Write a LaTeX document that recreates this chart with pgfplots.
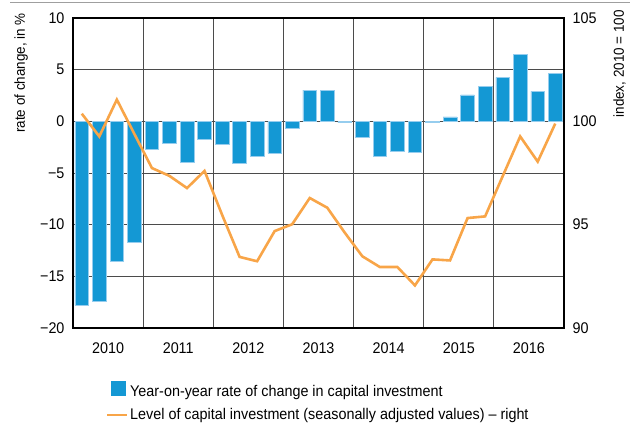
\documentclass[border=0pt]{standalone}
\usepackage{fontspec}
\setmainfont{Liberation Sans}[FakeStretch=0.93]
\usepackage{pgfplots}
\pgfplotsset{compat=1.18}
\definecolor{barblue}{RGB}{20,152,212}
\definecolor{baredge}{RGB}{150,205,238}
\definecolor{lineorange}{RGB}{248,165,72}
\definecolor{gridgray}{RGB}{75,75,75}

\pgfplotsset{
  base/.style={
    at={(73bp,97bp)}, anchor=south west, scale only axis,
    width=491bp, height=310bp,
    xmin=-0.5, xmax=27.5,
    tick label style={font=\fontsize{15.5}{17}\selectfont},
    /pgf/number format/assume math mode=true,
    major tick length=0pt, minor tick length=0pt,
    axis line style={black, line width=1.1bp},
  }
}

\begin{document}
\begin{tikzpicture}[x=1bp,y=1bp]
\useasboundingbox (0,0) rectangle (634,425);
\draw[gray!75, line width=1bp] (10,422) -- (630,422);

% left axis: year-on-year rate, bars
\begin{axis}[base,
  ymin=-20, ymax=10,
  ytick={-20,-15,-10,-5,0,5,10},
  yticklabels={−20,−15,−10,−5,0,5,10},
  yticklabel style={xshift=-5bp},
  ytick pos=left,
  xtick={1.5,5.5,9.5,13.5,17.5,21.5,25.5},
  xticklabels={2010,2011,2012,2013,2014,2015,2016},
  xticklabel style={yshift=-11bp},
  minor xtick={3.5,7.5,11.5,15.5,19.5,23.5},
  ymajorgrids, xminorgrids,
  grid style={gridgray, line width=0.9bp},
  minor grid style={gridgray, line width=0.9bp},
]
\addplot[ybar, bar width=0.78, fill=barblue, draw=baredge, line width=0.6bp] coordinates {
  (0,-17.8) (1,-17.4) (2,-13.5) (3,-11.75)
  (4,-2.74) (5,-2.13) (6,-3.94) (7,-1.74)
  (8,-2.23) (9,-4.06) (10,-3.42) (11,-3.1)
  (12,-0.65) (13,3.03) (14,2.97) (15,-0.13)
  (16,-1.58) (17,-3.39) (18,-2.87) (19,-3.03)
  (20,-0.13) (21,0.42) (22,2.55) (23,3.39)
  (24,4.26) (25,6.45) (26,2.9) (27,4.61)
};
\end{axis}

% right axis: level of capital investment, index 2010 = 100
\begin{axis}[base,
  ymin=90, ymax=105,
  ytick={90,95,100,105},
  yticklabel style={xshift=5bp},
  axis y line*=right, axis x line=none,
  legend style={at={(0.062,-0.165)}, anchor=north west, draw=none, fill=none,
    font=\fontsize{15.5}{17}\selectfont, row sep=7bp,
    cells={anchor=west, inner sep=1bp}},
]
\addlegendimage{legend image code/.code={
  \path[draw=none] (-4bp,0) -- (16bp,0);
  \fill[barblue, draw=none] (0bp,-5bp) rectangle (15bp,10bp);}}
\addlegendentry{Year-on-year rate of change in capital investment}
\addplot[lineorange, line width=2.6bp, mark=none,
  legend image code/.code={\draw[lineorange, line width=1.6bp] (-4bp,0) -- (16bp,0);}]
  coordinates {
  (0,100.37) (1,99.27) (2,101.05) (3,99.39)
  (4,97.74) (5,97.36) (6,96.77) (7,97.6)
  (8,95.48) (9,93.44) (10,93.23) (11,94.69)
  (12,95.02) (13,96.29) (14,95.82) (15,94.61)
  (16,93.47) (17,92.95) (18,92.95) (19,92.06)
  (20,93.32) (21,93.27) (22,95.32) (23,95.4)
  (24,97.34) (25,99.27) (26,98.05) (27,99.89)
};
\addlegendentry{Level of capital investment (seasonally adjusted values) – right}
\end{axis}

\node[rotate=90, anchor=south east, font=\fontsize{14.5}{16}\selectfont, inner sep=0pt]
  at (28,412) {rate of change, in \%};
\node[rotate=90, anchor=south east, font=\fontsize{14.5}{16}\selectfont, inner sep=0pt]
  at (626,415) {index, 2010 = 100};
\end{tikzpicture}
\end{document}
